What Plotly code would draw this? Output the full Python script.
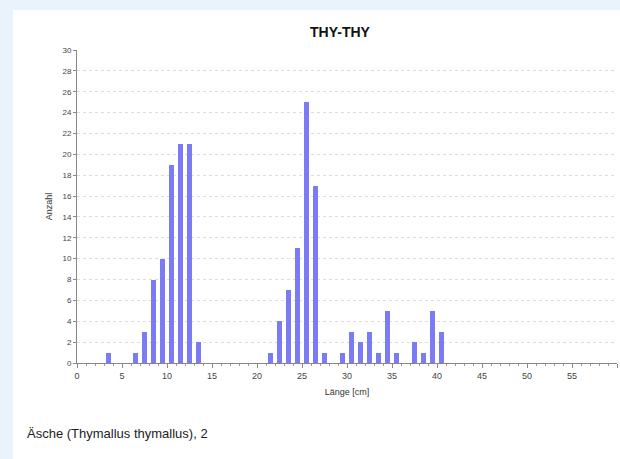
import plotly.graph_objects as go

# Data (bin centres in cm, counts)
laenge = [3.5, 6.5, 7.5, 8.5, 9.5, 10.5, 11.5, 12.5, 13.5,
          21.5, 22.5, 23.5, 24.5, 25.5, 26.5, 27.5,
          29.5, 30.5, 31.5, 32.5, 33.5, 34.5, 35.5,
          37.5, 38.5, 39.5, 40.5]
anzahl = [1, 1, 3, 8, 10, 19, 21, 21, 2,
          1, 4, 7, 11, 25, 17, 1,
          1, 3, 2, 3, 1, 5, 1,
          2, 1, 5, 3]
title_text = "THY-THY"
caption_text = "Äsche (Thymallus thymallus), 2"

W, H = 620, 459
L, R, T, B = 77, 3, 50, 96
pw, ph = W - L - R, H - T - B

def px_to_paper_x(px):
    return (px - L) / pw

def px_to_paper_y(py):
    return (H - B - py) / ph

fig = go.Figure()
fig.add_trace(go.Bar(
    x=laenge, y=anzahl, width=0.5,
    marker=dict(color="#7b7bf6", line=dict(width=0)),
    hoverinfo="x+y",
))

narrow = "Liberation Sans Narrow, Liberation Sans"
fig.update_layout(
    width=W, height=H,
    margin=dict(l=L, r=R, t=T, b=B),
    paper_bgcolor="#eaf2fc",
    plot_bgcolor="white",
    showlegend=False,
    font=dict(family="Liberation Sans", color="#333333"),
    shapes=[dict(type="rect", xref="paper", yref="paper",
                 x0=px_to_paper_x(13), x1=px_to_paper_x(W + 5),
                 y0=px_to_paper_y(H + 5), y1=px_to_paper_y(10),
                 fillcolor="white", line=dict(width=0), layer="below")],
    annotations=[
        dict(text="<b>" + title_text + "</b>", xref="paper", yref="paper",
             x=px_to_paper_x(340), y=px_to_paper_y(32), showarrow=False,
             font=dict(size=14, family=narrow, color="#111111"),
             xanchor="center", yanchor="middle"),
        dict(text=caption_text, xref="paper", yref="paper",
             x=px_to_paper_x(25), y=px_to_paper_y(433), showarrow=False,
             font=dict(size=13, family="Liberation Sans", color="#222222"),
             xanchor="left", yanchor="middle"),
    ],
    bargap=0,
)

fig.update_xaxes(
    range=[0, 60], tickmode="linear", tick0=0, dtick=5,
    ticks="outside", ticklen=4, tickcolor="#888888",
    tickfont=dict(size=9, family=narrow, color="#444444"),
    showline=True, linecolor="#888888", linewidth=1,
    showgrid=False, zeroline=False,
    minor=dict(dtick=1, ticks="outside", ticklen=2, tickcolor="#999999", showgrid=False),
    title=dict(text="Länge [cm]", font=dict(size=9, family=narrow, color="#333333"), standoff=8),
)
fig.update_yaxes(
    range=[0, 30], tickmode="linear", tick0=0, dtick=2,
    ticks="outside", ticklen=3, tickcolor="#888888",
    tickfont=dict(size=8, family=narrow, color="#444444"),
    showline=True, linecolor="#888888", linewidth=1,
    showgrid=True, gridcolor="#dcdcdc", griddash="dot", gridwidth=1,
    zeroline=False,
    title=dict(text="Anzahl", font=dict(size=9, family=narrow, color="#333333"), standoff=8),
)

fig.write_html("out.html", config={"displayModeBar": False},
               post_script="document.body.style.margin='0';document.body.style.background='#eaf2fc';")
